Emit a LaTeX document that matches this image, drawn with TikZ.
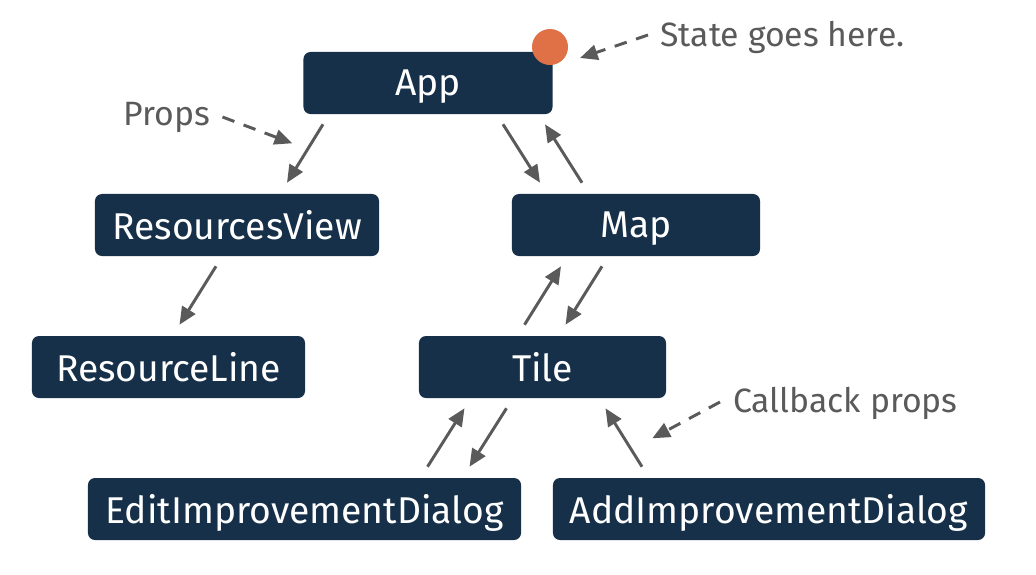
\documentclass[tikz,border=0pt]{standalone}
\usepackage{fontspec}
\setmainfont{Fira Sans}
\usetikzlibrary{arrows.meta,calc}
\definecolor{rtink}{HTML}{163049}
\definecolor{rtline}{HTML}{5A5A5A}
\definecolor{rtstate}{HTML}{E07046}
\tikzset{
  rtcomp/.style={
    draw=none,
    fill=rtink,
    rounded corners=5pt,
    minimum height=1.55cm,
    inner xsep=0pt,
    text depth=0pt,
    font=\fontsize{26.5}{30}\selectfont,
    text=white
  },
  rtnote/.style={
    inner sep=0pt,
    font=\fontsize{24}{28}\selectfont,
    text=rtline
  },
  rtedge/.style={
    -{Triangle[length=4.4mm,width=3.8mm]},
    line width=2.1pt,
    color=rtline
  },
  rthint/.style={rtedge, dash pattern=on 9pt off 7pt}
}

\begin{document}
\begin{tikzpicture}[x=0.025cm,y=-0.025cm]
  \useasboundingbox (0,0) rectangle (1036,574);

  \node[rtcomp, minimum width=6.225cm] (app) at (428,83) {App};
  \node[rtcomp, minimum width=7.1cm] (view) at (237,225) {ResourcesView};
  \node[rtcomp, minimum width=6.2cm] (map) at (636,225) {Map};
  \node[rtcomp, minimum width=6.825cm] (line) at (168.5,367) {ResourceLine};
  \node[rtcomp, minimum width=6.175cm] (tile) at (542.5,367) {Tile};
  \node[rtcomp, minimum width=10.825cm] (edit) at (304.5,509) {EditImprovementDialog};
  \node[rtcomp, minimum width=10.8cm] (add) at (769,509) {AddImprovementDialog};

  \fill[rtstate] (550,47) circle (0.45cm) coordinate (state);

  \node[rtnote] (props) at (167,117) {Props};
  \node[rtnote, anchor=west] (stnote) at (660,37) {State goes here.};
  \node[rtnote, anchor=west] (cbnote) at (733,403) {Callback props};

  % props go down, callbacks go up
  \draw[rtedge] ($(app.south)+(-105,10)$) -- ($(view.north)+(50,-11)$);
  \draw[rtedge] ($(app.south)+(75,10)$) -- ($(map.north)+(-96,-11)$);
  \draw[rtedge] ($(map.north)+(-54,-11)$) -- ($(app.south)+(117,10)$);
  \draw[rtedge] ($(view.south)+(-21,10)$) -- ($(line.north)+(11,-11)$);
  \draw[rtedge] ($(map.south)+(-34,10)$) -- ($(tile.north)+(23,-11)$);
  \draw[rtedge] ($(tile.north)+(-18,-11)$) -- ($(map.south)+(-75,10)$);
  \draw[rtedge] ($(tile.south)+(-36,10)$) -- ($(edit.north)+(165,-11)$);
  \draw[rtedge] ($(edit.north)+(123,-11)$) -- ($(tile.south)+(-78,10)$);
  \draw[rtedge] ($(add.north)+(-127,-11)$) -- ($(tile.south)+(63,10)$);

  % annotations
  \draw[rthint] ($(props.east)+(12,0)$) -- ($(app.south west)+(-11,29)$);
  \draw[rthint] ($(stnote.west)+(-12,-2)$) -- ($(state)+(30,11)$);
  \draw[rthint] ($(cbnote.west)+(-13,-1)$) -- ($(tile.south east)+(-14,40)$);
\end{tikzpicture}
\end{document}
